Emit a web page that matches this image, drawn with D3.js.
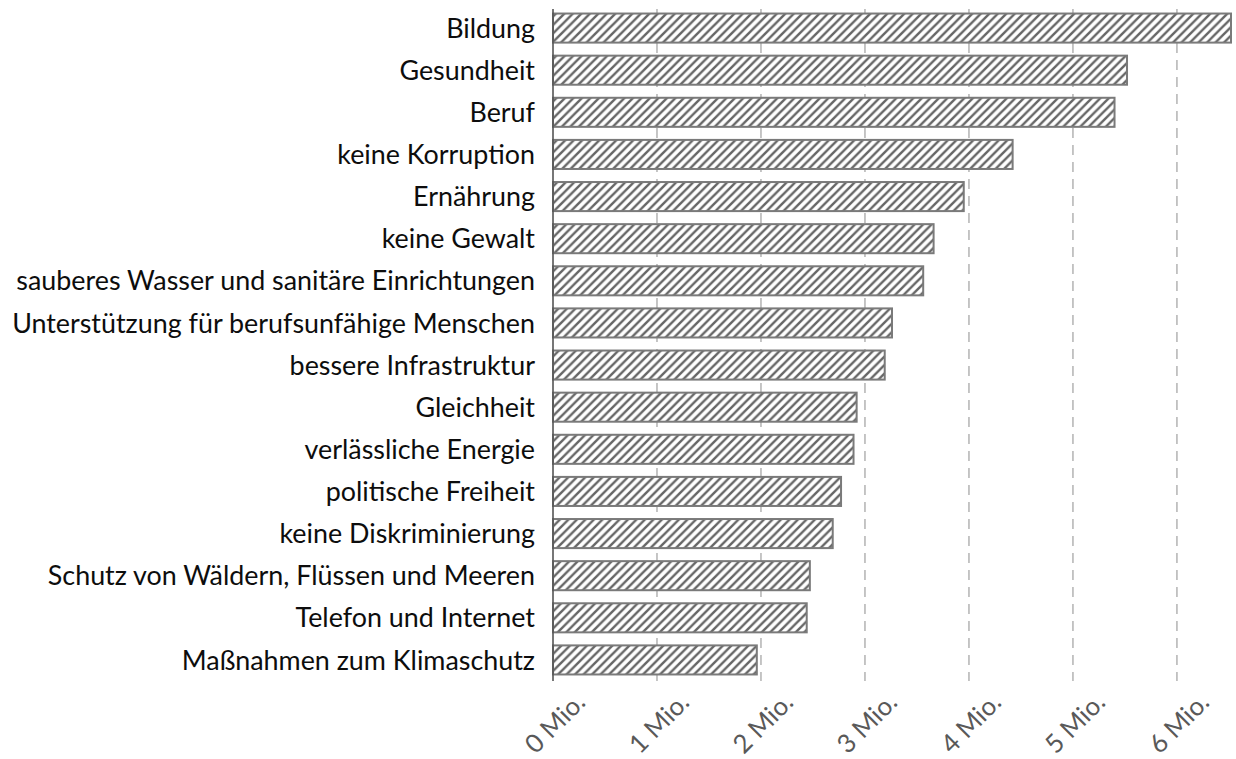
<!DOCTYPE html>
<html>
<head>
<meta charset="utf-8">
<script src="https://cdn.jsdelivr.net/npm/d3@7"></script>
<style>
  html, body { margin: 0; padding: 0; background: #fff; }
  svg { display: block; }
</style>
</head>
<body>
<svg id="chart" width="1236" height="759"></svg>
<script>
const categories = [
  "Bildung",
  "Gesundheit",
  "Beruf",
  "keine Korruption",
  "Ernährung",
  "keine Gewalt",
  "sauberes Wasser und sanitäre Einrichtungen",
  "Unterstützung für berufsunfähige Menschen",
  "bessere Infrastruktur",
  "Gleichheit",
  "verlässliche Energie",
  "politische Freiheit",
  "keine Diskriminierung",
  "Schutz von Wäldern, Flüssen und Meeren",
  "Telefon und Internet",
  "Maßnahmen zum Klimaschutz"
];
const values = [6.52, 5.52, 5.40, 4.42, 3.95, 3.66, 3.56, 3.26, 3.19, 2.92, 2.89, 2.77, 2.69, 2.47, 2.44, 1.96];
const tickValues = [0, 1, 2, 3, 4, 5, 6];
const tickLabels = ["0 Mio.", "1 Mio.", "2 Mio.", "3 Mio.", "4 Mio.", "5 Mio.", "6 Mio."];

(function () {
const svg = d3.select("#chart");
const pLeft = 553, pRight = 1231, pTop = 7, pBottom = 681;
const FONT = "Lato, 'Open Sans', sans-serif";

const x = d3.scaleLinear().domain([0, 6.52]).range([pLeft, pRight]);
const y = d3.scaleBand().domain(categories).range([pTop, pBottom]).paddingInner(0.31).paddingOuter(0.155);

// hatch pattern
const defs = svg.append("defs");
const pat = defs.append("pattern")
  .attr("id", "hatch")
  .attr("patternUnits", "userSpaceOnUse")
  .attr("width", 8.5).attr("height", 8.5);
pat.append("rect").attr("width", 8.5).attr("height", 8.5).attr("fill", "#fff");
pat.append("path")
  .attr("d", "M-2,2 L2,-2 M0,8.5 L8.5,0 M6.5,10.5 L10.5,6.5")
  .attr("stroke", "#666").attr("stroke-width", 2.4);

// gridlines
svg.append("g").selectAll("line")
  .data(tickValues.slice(1))
  .join("line")
  .attr("x1", d => x(d)).attr("x2", d => x(d))
  .attr("y1", 9).attr("y2", pBottom)
  .attr("stroke", "#b3b3b3")
  .attr("stroke-width", 1.5)
  .attr("stroke-dasharray", "10,7");

// bars
svg.append("g").selectAll("rect")
  .data(values)
  .join("rect")
  .attr("x", x(0))
  .attr("y", (d, i) => y(categories[i]))
  .attr("width", d => x(d) - x(0))
  .attr("height", y.bandwidth())
  .attr("fill", "url(#hatch)")
  .attr("stroke", "#7a7a7a")
  .attr("stroke-width", 2);

// axis line
svg.append("line")
  .attr("x1", pLeft).attr("x2", pLeft)
  .attr("y1", 9).attr("y2", pBottom)
  .attr("stroke", "#555")
  .attr("stroke-width", 1.6);

// category labels
const labels = svg.append("g").selectAll("text")
  .data(categories)
  .join("text")
  .attr("x", 535)
  .attr("y", d => y(d) + y.bandwidth() / 2)
  .attr("dy", "0.36em")
  .attr("text-anchor", "end")
  .attr("font-family", FONT)
  .attr("font-size", 22)
  .attr("fill", "#0d0d0d")
  .text(d => d);
let maxW = 0;
labels.each(function () { maxW = Math.max(maxW, this.getComputedTextLength()); });
const fs = 22 * 523 / maxW;
labels.attr("font-size", fs);

// tick labels
svg.append("g").selectAll("text")
  .data(tickValues)
  .join("text")
  .attr("transform", (d) => `translate(${x(d) + 2},${723}) rotate(-45)`)
  .attr("text-anchor", "middle")
  .attr("dy", "0.35em")
  .attr("font-family", FONT)
  .attr("font-size", fs * 0.96)
  .attr("fill", "#595959")
  .text((d, i) => tickLabels[i]);
})();
</script>
</body>
</html>
